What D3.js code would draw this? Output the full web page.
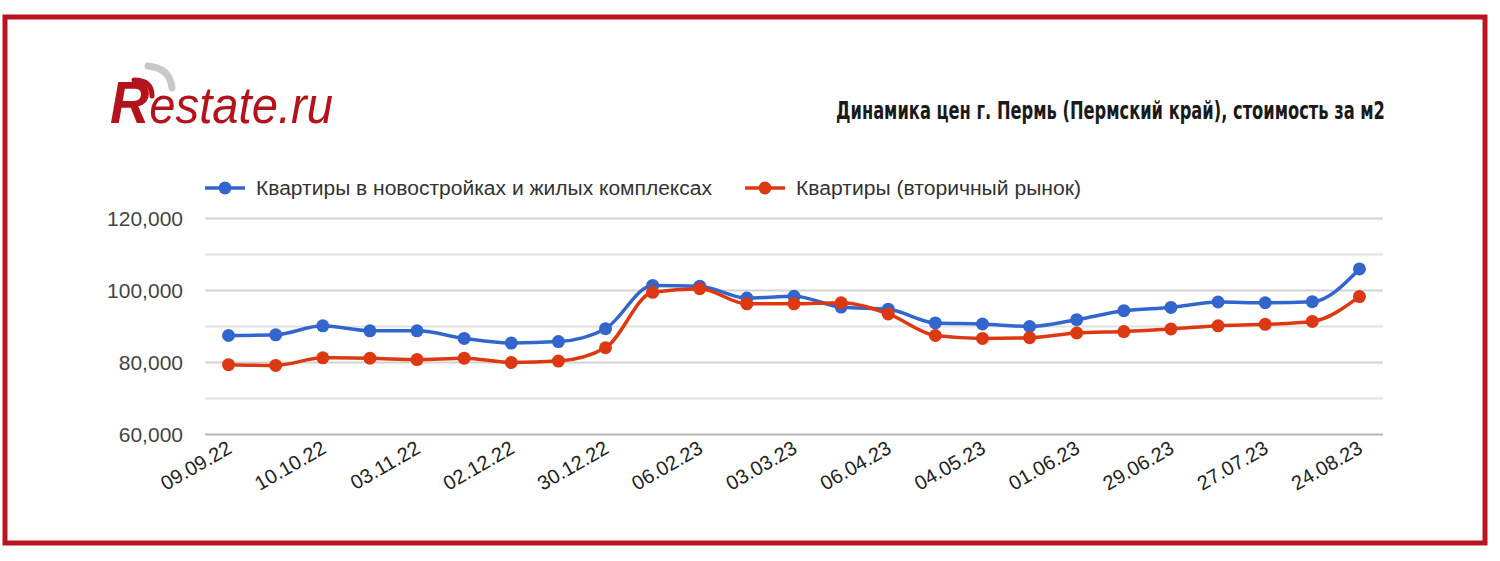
<!DOCTYPE html>
<html><head><meta charset="utf-8">
<script src="https://cdn.jsdelivr.net/npm/d3@7"></script>
<style>html,body{margin:0;padding:0;background:#fff;}svg{display:block;}</style>
</head><body>
<svg id="c" width="1500" height="561"></svg>
<script>
// ---- data ----
const dates = ["09.09.22","23.09.22","10.10.22","20.10.22","03.11.22","17.11.22","02.12.22","16.12.22","30.12.22","20.01.23","06.02.23","17.02.23","03.03.23","17.03.23","06.04.23","20.04.23","04.05.23","18.05.23","01.06.23","15.06.23","29.06.23","13.07.23","27.07.23","10.08.23","24.08.23"];
const newBuildings = [87500,87700,90200,88800,88800,86700,85400,85800,89400,101400,101200,97900,98400,95400,94800,91000,90700,90000,91900,94400,95300,96800,96600,96900,106000];
const secondary   = [79400,79200,81300,81200,80800,81200,80000,80400,84100,99500,100500,96300,96300,96600,93500,87500,86700,86900,88200,88600,89300,90200,90600,91400,98300];
const yTicks = [60000,80000,100000,120000];
const yGrid = [60000,70000,80000,90000,100000,110000,120000];
const seriesNames = ["Квартиры в новостройках и жилых комплексах","Квартиры (вторичный рынок)"];
const title = "Динамика цен г. Пермь (Пермский край), стоимость за м2";

const svg = d3.select("#c");
const BLUE = "#3366cc", RED = "#dc3912", FRAME = "#bb1420";

// frame
svg.append("rect").attr("x",5).attr("y",17).attr("width",1480).attr("height",526)
  .attr("fill","none").attr("stroke",FRAME).attr("stroke-width",5);

// logo
const logo = svg.append("g");
logo.append("path").attr("d","M148,66 Q170,68 172,88").attr("fill","none").attr("stroke","#c8c8c8").attr("stroke-width",7).attr("stroke-linecap","round");
logo.append("path").attr("d","M134,80 Q152,80 152,96").attr("fill","none").attr("stroke","#b3141c").attr("stroke-width",5).attr("stroke-linecap","round");
const lt = logo.append("text").attr("x",110).attr("y",123).attr("font-family","Liberation Sans, Arial, sans-serif")
  .attr("font-style","italic").attr("fill","#b3141c").attr("textLength",223).attr("lengthAdjust","spacingAndGlyphs");
lt.append("tspan").attr("font-weight","bold").attr("font-size",60).text("R");
lt.append("tspan").attr("font-size",52).text("estate.ru");

// title (scaled horizontally to the reference width)
const tg = svg.append("g");
const tt = tg.append("text").attr("x",0).attr("y",0)
  .attr("font-family","DejaVu Sans Condensed, Liberation Sans Narrow, sans-serif")
  .attr("font-weight","bold").attr("font-size",24).attr("fill","#1a1a1a").text(title);
const tw = tt.node().getComputedTextLength();
tg.attr("transform",`translate(836,119) scale(${549/tw},1)`);

// scales
const x = d3.scalePoint().domain(dates).range([205,1383]).padding(0.5);
const y = d3.scaleLinear().domain([60000,120000]).range([434.5,218.5]);

// grid
svg.append("g").selectAll("line").data(yGrid).join("line")
  .attr("x1",205).attr("x2",1383).attr("y1",d=>y(d)).attr("y2",d=>y(d))
  .attr("stroke",d=>d===60000?"#b8b8b8":(d%20000===0?"#d2d2d2":"#e2e2e2")).attr("stroke-width",2);

// y axis labels
const yAxis = d3.axisLeft(y).tickValues(yTicks).tickSize(0).tickPadding(0).tickFormat(d3.format(","));
const ya = svg.append("g").attr("transform","translate(183,0)").call(yAxis);
ya.select(".domain").remove();
ya.selectAll("text").attr("font-family","Liberation Sans, Arial, sans-serif").attr("font-size",21).attr("fill","#444");

// x axis labels
const xAxis = d3.axisBottom(x).tickSize(0).tickPadding(0).tickFormat((d,i)=> i%2===0 ? d : "");
const xa = svg.append("g").attr("transform","translate(0,450)").call(xAxis);
xa.select(".domain").remove();
xa.selectAll("text").attr("font-family","Liberation Sans, Arial, sans-serif").attr("font-size",20).attr("fill","#222")
  .attr("text-anchor","end").attr("dy","0").attr("y",0)
  .attr("transform","translate(4,2) rotate(-30)");

// lines
const line = d3.line().x((d,i)=>x(dates[i])).y(d=>y(d)).curve(d3.curveMonotoneX);
[[newBuildings,BLUE],[secondary,RED]].forEach(([vals,col])=>{
  svg.append("path").datum(vals).attr("d",line).attr("fill","none").attr("stroke",col).attr("stroke-width",3.5);
  svg.append("g").selectAll("circle").data(vals).join("circle")
    .attr("cx",(d,i)=>x(dates[i])).attr("cy",d=>y(d)).attr("r",6.5).attr("fill",col);
});

// legend
const legend = [[seriesNames[0],BLUE,205,456],[seriesNames[1],RED,745,285]];
legend.forEach(([name,col,lx,len])=>{
  const g = svg.append("g");
  g.append("line").attr("x1",lx).attr("x2",lx+40).attr("y1",188).attr("y2",188).attr("stroke",col).attr("stroke-width",3.5);
  g.append("circle").attr("cx",lx+20).attr("cy",188).attr("r",6.5).attr("fill",col);
  g.append("text").attr("x",lx+51).attr("y",188).attr("dy","0.35em")
    .attr("font-family","Liberation Sans, Arial, sans-serif").attr("font-size",20).attr("fill","#333")
    .attr("textLength",len).attr("lengthAdjust","spacingAndGlyphs").text(name);
});
</script>
</body></html>
